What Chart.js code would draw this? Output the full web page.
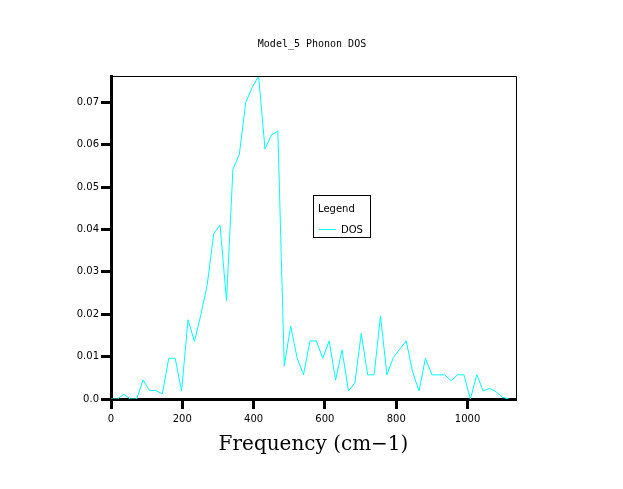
<!DOCTYPE html>
<html>
<head>
<meta charset="utf-8">
<script src="https://cdn.jsdelivr.net/npm/chart.js@4.4.1/dist/chart.umd.min.js"></script>
<style>
  html, body { margin: 0; padding: 0; background: #fff; }
  #wrap { width: 623px; height: 489px; }
</style>
</head>
<body>
<div id="wrap"><canvas id="dosChart" width="623" height="489"></canvas></div>
<script>
const chartTitle = "Model_5 Phonon DOS";
const xTitle = "Frequency (cm\u22121)";
const seriesName = "DOS";

const freqs = [0, 18, 36, 54, 72, 90, 108, 126, 144, 162, 180, 198, 216, 234, 252, 270,
  288, 306, 324, 342, 360, 378, 396, 414, 432, 450, 468, 486, 504, 522, 540, 558, 576,
  594, 612, 630, 648, 666, 684, 702, 720, 738, 756, 774, 792, 810, 828, 846, 864, 882,
  900, 918, 936, 954, 972, 990, 1008, 1026, 1044, 1062, 1080, 1098, 1116];

const dos = [0, 0, 0.0011, 0, 0, 0.0045, 0.002, 0.002, 0.0012, 0.0096, 0.0096, 0.0019,
  0.0187, 0.0136, 0.0198, 0.027, 0.039, 0.041, 0.0232, 0.0542, 0.0577, 0.07, 0.0735,
  0.0762, 0.059, 0.0623, 0.0632, 0.0078, 0.0172, 0.0097, 0.0057, 0.0137, 0.0137, 0.0096,
  0.0137, 0.0045, 0.0116, 0.0019, 0.0038, 0.0155, 0.0057, 0.0057, 0.0196, 0.0057, 0.0098,
  0.0118, 0.0137, 0.0064, 0.0019, 0.0096, 0.0057, 0.0057, 0.0057, 0.0043, 0.0057, 0.0057,
  0, 0.0057, 0.0019, 0.0025, 0.0017, 0.0004, 0];

const xTicks = [0, 200, 400, 600, 800, 1000];
const yTicks = [0, 0.01, 0.02, 0.03, 0.04, 0.05, 0.06, 0.07];

const lineColor = "#00ffff";

// title, thin top/right frame and the boxed legend
const decorations = {
  id: "decorations",
  afterDraw(chart) {
    const c = chart.ctx;
    const a = chart.chartArea;
    c.save();
    c.strokeStyle = "#000";
    c.lineWidth = 1;
    c.beginPath();
    c.moveTo(a.left, a.top + 0.5);
    c.lineTo(a.right + 0.5, a.top + 0.5);
    c.lineTo(a.right + 0.5, a.bottom);
    c.stroke();

    c.fillStyle = "#000";
    c.font = "10px 'DejaVu Sans Mono'";
    c.textAlign = "center";
    c.textBaseline = "middle";
    c.fillText(chartTitle, 312, 44);

    // legend box
    c.strokeRect(313.5, 195.5, 57, 42);
    c.font = "10px 'DejaVu Sans'";
    c.textAlign = "left";
    c.fillText("Legend", 318, 209);
    c.fillText(seriesName, 341, 230);
    c.strokeStyle = lineColor;
    c.beginPath();
    c.moveTo(319, 229.5);
    c.lineTo(336, 229.5);
    c.stroke();
    c.restore();
  }
};

const ctx = document.getElementById("dosChart").getContext("2d");

const dosChart = new Chart(ctx, {
  type: "line",
  data: {
    datasets: [
      {
        label: seriesName,
        data: freqs.map((f, i) => ({ x: f, y: dos[i] })),
        borderColor: lineColor,
        borderWidth: 1,
        pointRadius: 0,
        tension: 0,
        fill: false,
      },
    ],
  },
  options: {
    responsive: false,
    maintainAspectRatio: false,
    animation: false,
    devicePixelRatio: 1,
    layout: { padding: { top: 76, right: 107, left: 0, bottom: 0 } },
    plugins: {
      legend: { display: false },
      title: { display: false },
      tooltip: { enabled: false },
    },
    scales: {
      x: {
        type: "linear",
        min: 0,
        max: 1136,
        z: 1,
        afterFit: (s) => { s.height = 90; },
        afterBuildTicks: (s) => { s.ticks = xTicks.map((v) => ({ value: v })); },
        border: { display: true, color: "#000", width: 3 },
        grid: { drawOnChartArea: false, drawTicks: true, tickLength: 10, tickWidth: 3, tickColor: "#000" },
        ticks: {
          color: "#000",
          padding: 4,
          maxRotation: 0,
          font: { family: "DejaVu Sans", size: 10 },
          callback: (v) => String(v),
        },
        title: {
          display: true,
          text: xTitle,
          color: "#000",
          font: { family: "DejaVu Serif", size: 20 },
          padding: { top: 0, bottom: 32 },
        },
      },
      y: {
        min: 0,
        max: 0.0762,
        z: 1,
        afterFit: (s) => { s.width = 111; },
        afterBuildTicks: (s) => { s.ticks = yTicks.map((v) => ({ value: v })); },
        border: { display: true, color: "#000", width: 3 },
        grid: { drawOnChartArea: false, drawTicks: true, tickLength: 10, tickWidth: 3, tickColor: "#000" },
        ticks: {
          color: "#000",
          padding: 2,
          font: { family: "DejaVu Sans", size: 10 },
          callback: (v) => (v === 0 ? "0.0" : v.toFixed(2)),
        },
      },
    },
  },
  plugins: [decorations],
});
</script>
</body>
</html>
